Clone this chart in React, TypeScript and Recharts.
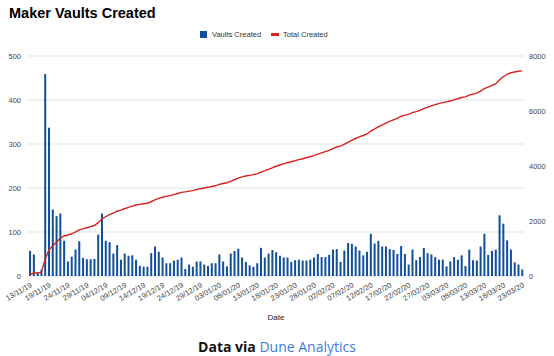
import { ComposedChart, Bar, Line, XAxis, YAxis, CartesianGrid, Legend } from 'recharts';

// daily dates (15/11 missing in the source sheet)
const dates = [
  '13/11/19', '14/11/19', '16/11/19', '17/11/19', '18/11/19', '19/11/19', '20/11/19', '21/11/19', '22/11/19', '23/11/19',
  '24/11/19', '25/11/19', '26/11/19', '27/11/19', '28/11/19', '29/11/19', '30/11/19',
  '01/12/19', '02/12/19', '03/12/19', '04/12/19', '05/12/19', '06/12/19', '07/12/19', '08/12/19', '09/12/19', '10/12/19',
  '11/12/19', '12/12/19', '13/12/19', '14/12/19', '15/12/19', '16/12/19', '17/12/19', '18/12/19', '19/12/19', '20/12/19',
  '21/12/19', '22/12/19', '23/12/19', '24/12/19', '25/12/19', '26/12/19', '27/12/19', '28/12/19', '29/12/19', '30/12/19',
  '31/12/19',
  '01/01/20', '02/01/20', '03/01/20', '04/01/20', '05/01/20', '06/01/20', '07/01/20', '08/01/20', '09/01/20', '10/01/20',
  '11/01/20', '12/01/20', '13/01/20', '14/01/20', '15/01/20', '16/01/20', '17/01/20', '18/01/20', '19/01/20', '20/01/20',
  '21/01/20', '22/01/20', '23/01/20', '24/01/20', '25/01/20', '26/01/20', '27/01/20', '28/01/20', '29/01/20', '30/01/20',
  '31/01/20',
  '01/02/20', '02/02/20', '03/02/20', '04/02/20', '05/02/20', '06/02/20', '07/02/20', '08/02/20', '09/02/20', '10/02/20',
  '11/02/20', '12/02/20', '13/02/20', '14/02/20', '15/02/20', '16/02/20', '17/02/20', '18/02/20', '19/02/20', '20/02/20',
  '21/02/20', '22/02/20', '23/02/20', '24/02/20', '25/02/20', '26/02/20', '27/02/20', '28/02/20', '29/02/20',
  '01/03/20', '02/03/20', '03/03/20', '04/03/20', '05/03/20', '06/03/20', '07/03/20', '08/03/20', '09/03/20', '10/03/20',
  '11/03/20', '12/03/20', '13/03/20', '14/03/20', '15/03/20', '16/03/20', '17/03/20', '18/03/20', '19/03/20', '20/03/20',
  '21/03/20', '22/03/20', '23/03/20',
];

const vaultsCreated = [
  57, 49, 8, 14, 459, 337, 151, 136, 142, 80,
  33, 44, 60, 79, 41, 38, 38, 39, 94, 142,
  80, 77, 51, 70, 37, 51, 46, 47, 37, 23,
  21, 21, 52, 67, 55, 42, 29, 29, 35, 37,
  42, 16, 26, 21, 33, 33, 26, 23, 29, 29,
  49, 33, 22, 51, 57, 62, 42, 32, 24, 21,
  29, 64, 42, 51, 59, 54, 46, 42, 42, 32,
  36, 37, 35, 35, 37, 42, 50, 43, 43, 48,
  60, 61, 32, 58, 75, 73, 67, 58, 47, 55,
  96, 74, 80, 67, 67, 61, 59, 50, 68, 50,
  26, 60, 36, 43, 64, 52, 49, 43, 37, 37,
  22, 33, 43, 37, 47, 23, 60, 36, 35, 67,
  96, 48, 57, 60, 138, 119, 81, 60, 31, 26,
  15,
];

const totalCreated = [
  58, 108, 116, 130, 600, 940, 1090, 1230, 1375, 1455,
  1490, 1535, 1595, 1675, 1715, 1755, 1795, 1835, 1930, 2075,
  2155, 2235, 2285, 2355, 2395, 2445, 2495, 2540, 2580, 2605,
  2625, 2645, 2700, 2765, 2825, 2865, 2895, 2925, 2960, 3000,
  3040, 3060, 3085, 3105, 3140, 3175, 3200, 3225, 3255, 3280,
  3330, 3365, 3390, 3440, 3500, 3560, 3605, 3635, 3660, 3685,
  3715, 3780, 3820, 3875, 3935, 3990, 4035, 4080, 4120, 4155,
  4190, 4230, 4265, 4300, 4335, 4380, 4430, 4475, 4520, 4570,
  4630, 4690, 4725, 4785, 4860, 4935, 5000, 5060, 5110, 5165,
  5265, 5340, 5420, 5490, 5555, 5620, 5680, 5730, 5800, 5850,
  5875, 5940, 5975, 6020, 6085, 6135, 6185, 6230, 6270, 6305,
  6330, 6365, 6405, 6445, 6490, 6515, 6575, 6615, 6650, 6720,
  6815, 6865, 6925, 6985, 7125, 7245, 7330, 7390, 7420, 7445,
  7460,
];

const leftTicks = [0, 100, 200, 300, 400, 500];
const rightTicks = [0, 2000, 4000, 6000, 8000];

const BLUE = '#0f4f9c';
const RED = '#d6221e';
const FONT = '"Liberation Sans", Arial, sans-serif';

const chartData = dates.map((date, i) => ({
  date,
  vaults: vaultsCreated[i],
  total: totalCreated[i],
}));

function LegendContent({ payload }: any) {
  // bars first, like the sheet's legend
  const items = [...(payload || [])].sort((a: any, b: any) => (a.type === 'square' ? -1 : 0) - (b.type === 'square' ? -1 : 0));
  return (
    <div style={{ display: 'flex', alignItems: 'center', paddingLeft: 200, fontSize: 7.5, color: '#333', fontFamily: FONT }}>
      {items.map((p: any) => (
        <span key={p.value} style={{ display: 'flex', alignItems: 'center', marginRight: 10 }}>
          {p.type === 'square' ? (
            <span style={{ width: 7, height: 7, background: p.color, marginRight: 5 }} />
          ) : (
            <span style={{ width: 8, height: 2.5, background: p.color, marginRight: 4 }} />
          )}
          {p.value}
        </span>
      ))}
    </div>
  );
}

export default function App() {
  return (
    <div style={{ position: 'absolute', left: 0, top: 0, width: 554, height: 356, background: '#fff', fontFamily: FONT }}>
      <div style={{ position: 'absolute', left: 9, top: 6, fontSize: 14.5, lineHeight: '14px', fontWeight: 700, color: '#000' }}>
        Maker Vaults Created
      </div>
      <ComposedChart
        width={554}
        height={356}
        data={chartData}
        margin={{ top: 56, right: 0, bottom: 36, left: 0 }}
        barCategoryGap="28%"
      >
        <CartesianGrid vertical={false} yAxisId="left" stroke="#e2e2e2" strokeWidth={1.2} />
        <XAxis
          dataKey="date"
          interval={4}
          angle={-30}
          textAnchor="end"
          height={44}
          tickSize={4}
          tickMargin={2}
          axisLine={false}
          tickLine={false}
          tick={{ fontSize: 7.5, fill: '#444', fontFamily: FONT }}
          label={{ value: 'Date', position: 'insideBottom', offset: 0, fill: '#222', fontSize: 8, fontFamily: FONT }}
        />
        <YAxis
          yAxisId="left"
          orientation="left"
          domain={[0, 500]}
          ticks={leftTicks}
          interval={0}
          width={28}
          tickSize={5}
          tickMargin={2}
          axisLine={false}
          tickLine={false}
          tick={{ fontSize: 7.5, fill: '#444', fontFamily: FONT }}
        />
        <YAxis
          yAxisId="right"
          orientation="right"
          domain={[0, 8000]}
          ticks={rightTicks}
          interval={0}
          width={30}
          tickSize={3}
          tickMargin={2}
          axisLine={false}
          tickLine={false}
          tick={{ fontSize: 7.5, fill: '#444', fontFamily: FONT }}
        />
        <Legend verticalAlign="middle" content={LegendContent} wrapperStyle={{ top: 30, left: 0, width: 554 }} />
        <Bar yAxisId="left" dataKey="vaults" name="Vaults Created" fill={BLUE} legendType="square" isAnimationActive={false} />
        <Line
          yAxisId="right"
          type="linear"
          dataKey="total"
          name="Total Created"
          stroke={RED}
          strokeWidth={1.4}
          dot={false}
          legendType="plainline"
          isAnimationActive={false}
        />
      </ComposedChart>
      <div style={{ position: 'absolute', top: 337, left: 0, width: 554, textAlign: 'center', fontFamily: '"Open Sans", sans-serif', fontSize: 14, lineHeight: 'normal' }}>
        <span style={{ fontWeight: 700, color: '#111' }}>Data via </span>
        <span style={{ color: '#3b7ddd' }}>Dune Analytics</span>
      </div>
    </div>
  );
}
